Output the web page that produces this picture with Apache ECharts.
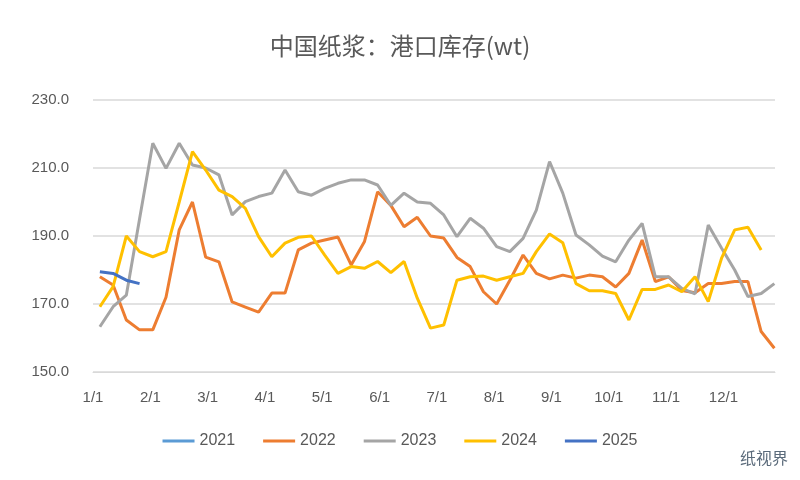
<!DOCTYPE html>
<html><head><meta charset="utf-8">
<script src="https://cdn.jsdelivr.net/npm/echarts@6/dist/echarts.min.js"></script>
<style>html,body{margin:0;padding:0;background:#fff}#c{width:800px;height:480px}</style>
</head><body><div id="c"></div>
<script>
var monthLabels = ['1/1','2/1','3/1','4/1','5/1','6/1','7/1','8/1','9/1','10/1','11/1','12/1'];
var s2021 = [];
var s2022 = [178,175.6,165.3,162.4,162.4,172,191.8,200,183.8,182.4,170.6,169.1,167.6,173.2,173.2,185.9,187.9,188.8,189.7,181.5,188.3,203,199,192.7,195.5,190,189.4,183.7,181,173.6,170,177,184.4,179,177.4,178.5,177.6,178.5,178,175,179,188.8,176.6,178,174,173.3,176,176,176.6,176.6,161.9,157];
var s2023 = [163.3,169.2,172.6,195,217.3,209.9,217.3,210.9,210,208,196.2,200.1,201.6,202.6,209.4,203,202,204,205.5,206.5,206.5,205,199,202.6,200,199.6,196.2,189.8,195.2,192.3,186.9,185.4,189.3,197.6,211.9,202.6,190.3,187.4,184.1,182.4,188.8,193.7,178,178,174.6,173,193.2,186.5,180,172.2,173.1,176];
var s2024 = [169.2,175.1,190,185.4,183.9,185.4,200,214.8,209.4,203.5,201.6,198.1,189.8,183.9,187.9,189.6,190,184.4,179,181,180.5,182.5,179.2,182.5,171.7,162.9,163.8,177,178,178.2,177,178,179,185.4,190.6,188,176,173.9,173.9,173.1,165.3,174.3,174.3,175.6,173.6,178,170.7,183.4,191.8,192.6,185.9];
var s2025 = [179.5,179,177,176];
var seriesNames = ['2021','2022','2023','2024','2025'];
var colors = ['#5B9BD5','#ED7D31','#A5A5A5','#FFC000','#4472C4'];
function toXY(arr){return arr.map(function(v,i){return [0.12+i*12/52, v];});}
var all=[s2021,s2022,s2023,s2024,s2025];
var chart = echarts.init(document.getElementById('c'));
chart.setOption({
  animation:false,
  title:{text:'中国纸浆：港口库存(wt)',left:'center',top:29,textStyle:{fontSize:24,fontWeight:'normal',color:'#595959',fontFamily:'Noto Sans CJK SC'}},
  legend:{bottom:26,left:'center',itemWidth:32,itemGap:28,icon:'rect',itemHeight:3,textStyle:{fontSize:16,color:'#595959'},data:seriesNames},
  grid:{left:93,right:25,top:100,bottom:108},
  xAxis:{type:'value',min:0,max:11.9,interval:1,
    axisLine:{show:true,lineStyle:{color:'#D9D9D9'}},axisTick:{show:false},splitLine:{show:false},
    axisLabel:{showMaxLabel:false,fontSize:15,color:'#595959',margin:18,formatter:function(v){return monthLabels[Math.round(v)]||'';}}},
  yAxis:{type:'value',min:150,max:230,interval:20,
    axisLine:{show:false},axisTick:{show:false},
    splitLine:{lineStyle:{color:'#D9D9D9',width:1.5}},
    axisLabel:{fontSize:15,color:'#595959',margin:24,formatter:function(v){return v.toFixed(1);}}},
  graphic:[{type:'text',right:12,bottom:14,style:{text:'纸视界',fontSize:16,fill:'#5a6a7a',fontFamily:'Noto Sans CJK SC'}}],
  series:seriesNames.map(function(n,k){return {name:n,type:'line',data:toXY(all[k]),showSymbol:false,symbol:'none',
    lineStyle:{width:3,color:colors[k]},itemStyle:{color:colors[k]},z:k===4?10:k};})
});
</script></body></html>
